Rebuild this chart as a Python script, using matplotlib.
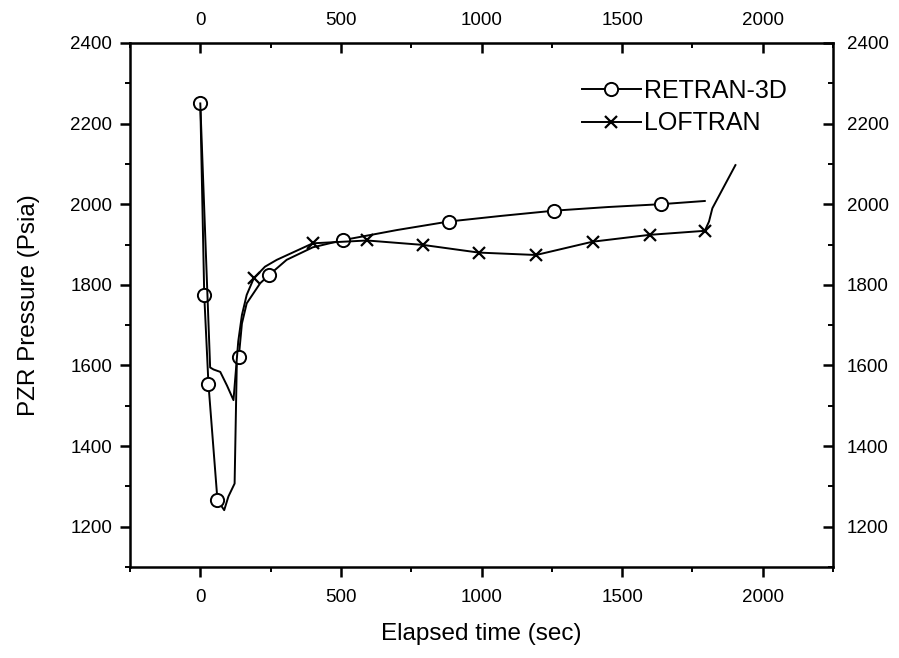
import numpy as np
import matplotlib
matplotlib.use("Agg")
import matplotlib.pyplot as plt
from matplotlib.ticker import MultipleLocator, FixedLocator

plt.rcParams['font.family'] = ['Liberation Sans', 'DejaVu Sans']

# RETRAN-3D curve, circles at selected points
ret_t = [0, 14, 29, 61, 85, 100, 122, 130, 137, 148, 165, 213, 244, 307, 400, 508,
         700, 883, 1070, 1259, 1450, 1637, 1794]
ret_p = [2252, 1775, 1554, 1266, 1241, 1275, 1307, 1613, 1622, 1704, 1754, 1804, 1824,
         1862, 1893, 1911, 1936, 1957, 1971, 1984, 1993, 2000, 2008]
ret_marks = [0, 1, 2, 3, 8, 12, 15, 17, 19, 21]

# LOFTRAN curve, crosses every 200 s
lof_t = [0, 35, 47, 71, 95, 118, 128, 135, 148, 165, 190, 230, 272, 400, 593, 792,
         990, 1194, 1395, 1598, 1794, 1809, 1821, 1903]
lof_p = [2250, 1595, 1590, 1584, 1550, 1514, 1600, 1660, 1725, 1775, 1816, 1845, 1862,
         1903, 1910, 1899, 1880, 1874, 1907, 1924, 1934, 1957, 1990, 2097]
lof_marks = [10, 13, 14, 15, 16, 17, 18, 19, 20]

x_ticks = [0, 500, 1000, 1500, 2000]
x_minor = [-250, 250, 750, 1250, 1750, 2250]
y_ticks = [1200, 1400, 1600, 1800, 2000, 2200, 2400]
y_minor = [1100, 1300, 1500, 1700, 1900, 2100, 2300]

fig = plt.figure(figsize=(8.99, 6.58), dpi=100)
ax = fig.add_axes([0.1446, 0.1383, 0.782, 0.7964])

ax.plot(ret_t, ret_p, color="black", linewidth=1.4, marker="o", markevery=ret_marks,
        markersize=9.5, markerfacecolor="white", markeredgecolor="black",
        markeredgewidth=1.4, label="RETRAN-3D")
ax.plot(lof_t, lof_p, color="black", linewidth=1.4, marker="x", markevery=lof_marks,
        markersize=9, markeredgewidth=1.6, label="LOFTRAN")

ax.set_xlim(-250, 2250)
ax.set_ylim(1100, 2400)
ax.xaxis.set_major_locator(FixedLocator(x_ticks))
ax.xaxis.set_minor_locator(FixedLocator(x_minor))
ax.yaxis.set_major_locator(FixedLocator(y_ticks))
ax.yaxis.set_minor_locator(FixedLocator(y_minor))

for s in ax.spines.values():
    s.set_linewidth(1.8)
ax.tick_params(which="major", direction="out", length=7.2, width=1.8, labelsize=13.5)
ax.tick_params(axis="x", which="major", pad=9)
ax.tick_params(axis="y", which="major", pad=5.5)
ax.tick_params(which="minor", direction="out", length=3.6, width=1.4)

top = ax.secondary_xaxis("top")
top.xaxis.set_major_locator(FixedLocator(x_ticks))
top.xaxis.set_minor_locator(FixedLocator(x_minor))
top.tick_params(which="major", direction="in", length=7.2, width=1.8, labelsize=13.5, pad=10)
top.tick_params(which="minor", direction="in", length=3.6, width=1.4)

right = ax.secondary_yaxis("right")
right.yaxis.set_major_locator(FixedLocator(y_ticks))
right.yaxis.set_minor_locator(FixedLocator(y_minor))
right.tick_params(which="major", direction="in", length=7.2, width=1.8, labelsize=13.5, pad=10)
right.tick_params(which="minor", direction="in", length=3.6, width=1.4)

ax.set_xlabel("Elapsed time (sec)", fontsize=17.5, labelpad=12)
ax.set_ylabel("PZR Pressure (Psia)", fontsize=17.5, labelpad=22)

ax.legend(loc="center left", bbox_to_anchor=(582 / 899, 1 - 107 / 658),
          bbox_transform=fig.transFigure, frameon=False, fontsize=18,
          handlelength=2.35, handletextpad=0.12, labelspacing=0.36, borderpad=0,
          borderaxespad=0)

fig.savefig("out.png", dpi=100)
